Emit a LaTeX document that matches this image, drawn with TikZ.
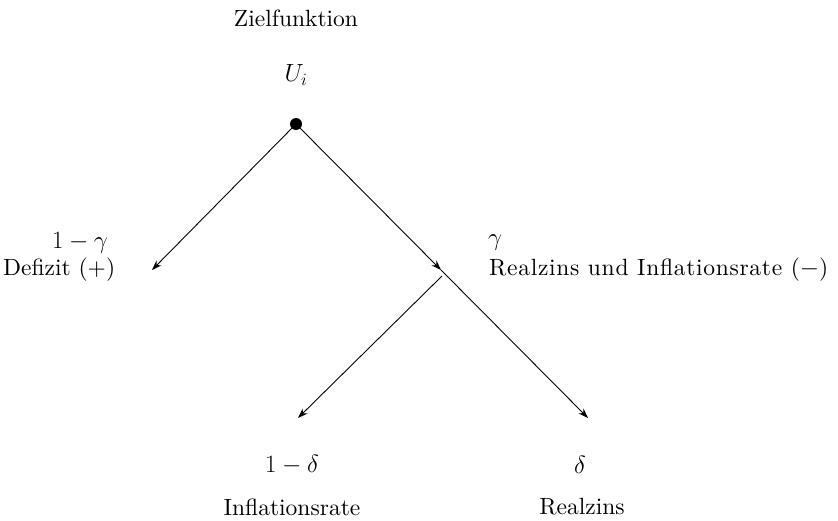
\documentclass[tikz,border=0pt]{standalone}
\usepackage{fontspec}
\setmainfont{lmroman10-regular}[Extension=.otf]
\usetikzlibrary{arrows.meta}
\begin{document}
\begin{tikzpicture}[x=1pt,y=-1pt,
  lbl/.style={inner sep=0pt,font=\fontsize{23.5}{27}\selectfont},
  edge/.style={line width=0.9pt,-{Stealth[length=10pt,width=7pt]}}]
\useasboundingbox (0,0) rectangle (838,521);
\node[lbl] (ziel) at (296,18) {Zielfunktion};
\node[lbl] (u) at (296,75) {$U_i$};
\fill (296,124) circle (6pt);
\coordinate (root) at (296,124);
\coordinate (mid) at (441,270);
\coordinate (br) at (442,276);
\coordinate (lt) at (152,270);
\coordinate (ll) at (298,418);
\coordinate (rr) at (588,418);
\node[lbl] (g1) at (80,243) {$1-\gamma$};
\node[lbl,anchor=west] (def) at (3,270) {Defizit (+)};
\node[lbl] (g) at (495,243) {$\gamma$};
\node[lbl,anchor=west] (ri) at (489,270) {\addfontfeatures{LetterSpace=3}Realzins und Inflationsrate ($-$)};
\node[lbl] (d1) at (292,465) {$1-\delta$};
\node[lbl] (d) at (580,465) {$\delta$};
\node[lbl] (inf) at (292,507) {Inflationsrate};
\node[lbl] (real) at (582,507) {Realzins};
\draw[edge] (root) -- (lt);
\draw[edge] (root) -- (mid);
\draw[edge] (mid) -- (rr);
\draw[edge] (br) -- (ll);
\end{tikzpicture}
\end{document}
